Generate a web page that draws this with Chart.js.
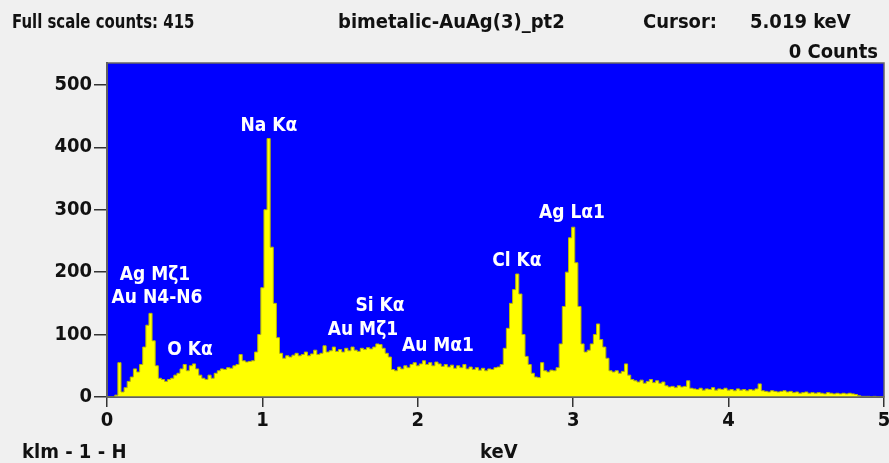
<!DOCTYPE html>
<html>
<head>
<meta charset="utf-8">
<script src="https://cdn.jsdelivr.net/npm/chart.js@4.4.1/dist/chart.umd.min.js"></script>
<style>
  body { margin: 0; background: #f0f0f0; }
  #wrap { position: relative; width: 889px; height: 463px; overflow: hidden; }
  .lbl { position: absolute; font-family: "Liberation Sans Narrow", "DejaVu Sans Condensed", sans-serif;
         font-weight: bold; font-size: 20px; color: #111; white-space: nowrap; line-height: 22px; }
  .narrow { transform: scaleX(0.83); transform-origin: left center; }
</style>
</head>
<body>
<div id="wrap">
  <canvas id="spectrum" width="889" height="463"></canvas>
  <div class="lbl narrow" style="left:12px; top:10px;">Full scale counts: 415</div>
  <div class="lbl" style="left:338px; top:10px;">bimetalic-AuAg(3)_pt2</div>
  <div class="lbl" style="left:643px; top:10px;">Cursor:</div>
  <div class="lbl" style="left:750px; top:10px;">5.019 keV</div>
  <div class="lbl" style="right:11px; top:40px;">0 Counts</div>
  <div class="lbl" style="left:22px; top:440px;">klm - 1 - H</div>
  <div class="lbl" style="left:480px; top:440px;">keV</div>
</div>
<script>
// channel width of the spectrum (keV)
const channelWidth = 0.02;

// counts per channel, 0.00 .. 5.00 keV, 10 channels per row
const counts = [
  0, 0, 0, 3, 55, 8, 15, 25, 32, 45,
  40, 52, 80, 115, 134, 90, 50, 30, 28, 25,
  28, 30, 35, 38, 45, 52, 42, 50, 53, 45,
  35, 30, 28, 35, 30, 38, 42, 45, 44, 47,
  46, 50, 52, 68, 58, 56, 57, 58, 72, 100,
  175, 300, 414, 240, 150, 95, 70, 62, 66, 64,
  67, 70, 66, 68, 72, 66, 69, 75, 68, 70,
  82, 72, 74, 80, 73, 76, 72, 78, 74, 80,
  75, 73, 78, 76, 79, 77, 80, 85, 84, 78,
  70, 64, 44, 42, 48, 45, 50, 47, 52, 55,
  50, 53, 58, 52, 55, 50, 56, 53, 49, 52,
  48, 51, 46, 50, 47, 52, 45, 48, 44, 47,
  43, 46, 42, 45, 44, 47, 48, 52, 78, 110,
  150, 172, 197, 165, 100, 65, 52, 38, 32, 31,
  55, 42, 40, 43, 42, 47, 85, 145, 200, 255,
  272, 215, 145, 85, 72, 75, 85, 100, 117, 92,
  80, 62, 42, 40, 42, 38, 41, 53, 35, 28,
  26, 24, 27, 22, 25, 28, 23, 26, 22, 24,
  18, 16, 17, 15, 18, 16, 17, 26, 14, 13,
  12, 14, 11, 13, 12, 15, 11, 13, 12, 14,
  11, 12, 10, 13, 11, 12, 10, 12, 11, 13,
  21, 10, 9, 8, 10, 9, 8, 9, 10, 8,
  9, 7, 8, 6, 7, 8, 6, 7, 6, 7,
  6, 5, 7, 6, 5, 6, 5, 6, 5, 6,
  5, 4, 2, 1, 1, 1, 0, 1, 0, 0,
  0
];

const xTicks = [0, 1, 2, 3, 4, 5];
const yTicks = [0, 100, 200, 300, 400, 500];

// peak markers: text, keV, counts (where the label sits)
const peakNames  = ['Na K\u03b1', 'Ag M\u03b61', 'Au N4-N6', 'O K\u03b1', 'Si K\u03b1', 'Au M\u03b61', 'Au M\u03b11', 'Cl K\u03b1', 'Ag L\u03b11'];
const peakKeV    = [1.042, 0.309, 0.322, 0.534, 1.757, 1.647, 2.130, 2.638, 2.992];
const peakCounts = [434, 196, 159, 75, 146, 107, 82, 218, 295];

const energies = counts.map((c, i) => +(i * channelWidth).toFixed(2));

const fontFamily = '"Liberation Sans Narrow", "DejaVu Sans Condensed", sans-serif';

const plotBackground = {
  id: 'plotBackground',
  beforeDraw(chart) {
    const { ctx, chartArea: a } = chart;
    ctx.save();
    ctx.fillStyle = '#0000ff';
    ctx.fillRect(a.left, a.top, a.right - a.left, a.bottom - a.top);
    ctx.restore();
  },
  afterDatasetsDraw(chart) {
    const { ctx, chartArea: a, scales } = chart;
    ctx.save();
    ctx.strokeStyle = '#666';
    ctx.lineWidth = 1.5;
    ctx.strokeRect(a.left, a.top, a.right - a.left, a.bottom - a.top);
    ctx.fillStyle = '#ffffff';
    ctx.font = 'bold 19px ' + fontFamily;
    ctx.textAlign = 'center';
    ctx.textBaseline = 'middle';
    peakNames.forEach((name, i) => {
      ctx.fillText(name, scales.x.getPixelForValue(peakKeV[i]), scales.y.getPixelForValue(peakCounts[i]));
    });
    ctx.restore();
  }
};

new Chart(document.getElementById('spectrum'), {
  type: 'line',
  data: {
    datasets: [{
      data: energies.map((e, i) => ({ x: e, y: counts[i] })),
      stepped: 'middle',
      fill: 'origin',
      backgroundColor: '#ffff00',
      borderColor: '#b8b800',
      borderWidth: 1,
      pointRadius: 0
    }]
  },
  options: {
    responsive: false,
    animation: false,
    layout: { padding: { top: 63, right: 5, left: 0, bottom: 0 } },
    plugins: { legend: { display: false }, tooltip: { enabled: false } },
    scales: {
      x: {
        type: 'linear',
        min: 0,
        max: 5,
        afterBuildTicks: s => { s.ticks = xTicks.map(v => ({ value: v })); },
        afterFit: s => { s.height = 66; s.paddingLeft = 0; s.paddingRight = 0; },
        grid: { drawOnChartArea: false, tickLength: 10, color: '#333', lineWidth: 1.5 },
        border: { display: true, color: '#555', width: 2 },
        ticks: { color: '#111', padding: 2, maxRotation: 0, font: { family: fontFamily, weight: 'bold', size: 20 } }
      },
      y: {
        min: 0,
        max: 535,
        afterBuildTicks: s => { s.ticks = yTicks.map(v => ({ value: v })); },
        afterFit: s => { s.width = 107; s.paddingTop = 0; s.paddingBottom = 0; },
        grid: { drawOnChartArea: false, tickLength: 13, color: '#333', lineWidth: 1.5 },
        border: { display: true, color: '#555', width: 2 },
        ticks: { color: '#111', padding: 2, font: { family: fontFamily, weight: 'bold', size: 20 } }
      }
    }
  },
  plugins: [plotBackground]
});
</script>
</body>
</html>
